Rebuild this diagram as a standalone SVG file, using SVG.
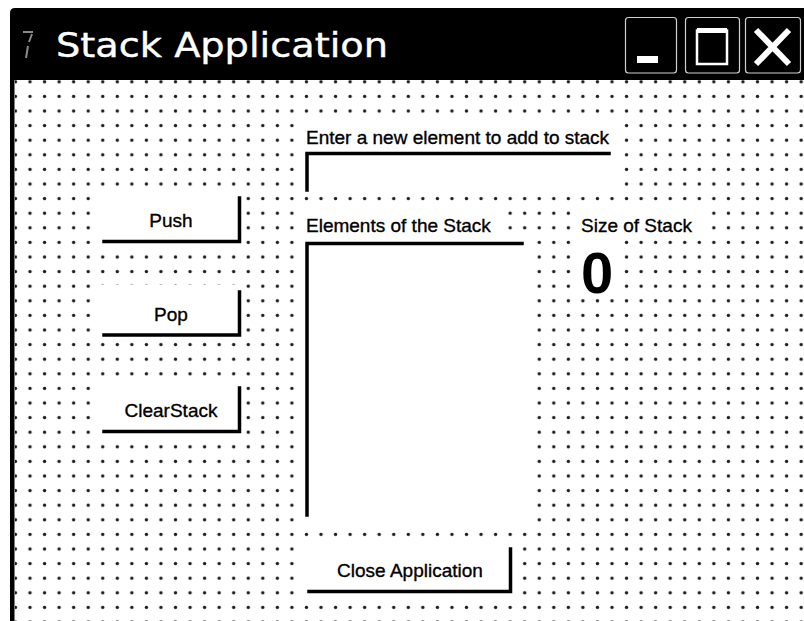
<svg xmlns="http://www.w3.org/2000/svg" width="804" height="621" viewBox="0 0 804 621">
  <defs>
    <pattern id="grid" patternUnits="userSpaceOnUse" x="22.725" y="103.7" width="14.55" height="14.6">
      <circle cx="7.275" cy="7.3" r="1.7" fill="#1a1a1a"/>
    </pattern>
  </defs>
  <style>
    .lbl { font-family: "Liberation Sans", Arial, sans-serif; font-size: 19px; fill: #000; stroke: #000; stroke-width: 0.35px; }
    .btn { font-family: "Liberation Sans", Arial, sans-serif; font-size: 19px; fill: #000; stroke: #000; stroke-width: 0.35px; text-anchor: middle; }
    .face { fill: #fff; }
    .edge { fill: none; stroke: #000; stroke-width: 3.5; stroke-linecap: square; }
    .tbtn { fill: none; stroke: #cfcfcf; stroke-width: 1.2; }
  </style>

  <!-- background -->
  <rect x="0" y="0" width="804" height="621" fill="#fff"/>
  <rect x="15" y="80" width="789" height="541" fill="url(#grid)"/>

  <!-- window frame -->
  <g id="titlebar">
    <path d="M10,80 L10,13 Q10,8 15,8 L804,8 L804,80 Z" fill="#000"/>
    <path d="M23,32 L33,32 M32,34 L29,42 M28,46 L26,58" stroke="#8a8a8a" stroke-width="2" fill="none"/>
    <text x="56" y="57" font-family="DejaVu Sans, Verdana, sans-serif" font-size="33" fill="#fff" stroke="#fff" stroke-width="0.4" textLength="332" lengthAdjust="spacingAndGlyphs">Stack Application</text>
    <g id="btn-minimize">
      <rect class="tbtn" x="625.5" y="17.5" width="51" height="55.5" rx="3"/>
      <rect x="637" y="56" width="21" height="7" fill="#fff"/>
    </g>
    <g id="btn-maximize">
      <rect class="tbtn" x="685.5" y="17.5" width="54" height="55.5" rx="3"/>
      <rect x="697" y="30.5" width="30" height="33.5" fill="none" stroke="#fff" stroke-width="2.5"/>
      <rect x="697" y="28" width="30" height="5" fill="#fff"/>
    </g>
    <g id="btn-close">
      <rect class="tbtn" x="745.5" y="17.5" width="55" height="55.5" rx="3"/>
      <path d="M756,30 L789,64 M789,30 L756,64" stroke="#fff" stroke-width="6" fill="none"/>
    </g>
  </g>
  <rect id="left-border" x="10" y="80" width="4.5" height="541" fill="#000"/>

  <g id="label-enter">
    <rect class="face" x="299" y="119" width="321" height="32"/>
    <text class="lbl" x="306" y="144">Enter a new element to add to stack</text>
  </g>
  <g id="textbox-input">
    <rect class="face" x="299" y="151" width="321" height="41"/>
    <path class="edge" d="M307,190 L307,153.5 L609,153.5"/>
  </g>

  <g id="label-elements">
    <rect class="face" x="299" y="206" width="204" height="34"/>
    <text class="lbl" x="306" y="231.5">Elements of the Stack</text>
  </g>
  <g id="listbox-stack">
    <rect class="face" x="299" y="240" width="233" height="286"/>
    <path class="edge" d="M307,515 L307,243.5 L522,243.5"/>
  </g>

  <g id="label-size">
    <rect class="face" x="575" y="206" width="130" height="34"/>
    <text class="lbl" x="581" y="231.5">Size of Stack</text>
  </g>
  <g id="label-count">
    <rect class="face" x="575" y="240" width="47" height="56"/>
    <text x="581" y="293" font-family="Liberation Sans, Arial, sans-serif" font-size="58" font-weight="bold" fill="#000">0</text>
  </g>

  <g id="button-push">
    <rect class="face" x="95" y="191" width="150" height="56"/>
    <path class="edge" d="M104,241.5 L239.5,241.5 L239.5,198"/>
    <text class="btn" x="171" y="226.5">Push</text>
  </g>
  <g id="button-pop">
    <rect class="face" x="95" y="285" width="150" height="56"/>
    <path class="edge" d="M104,335 L239.5,335 L239.5,292"/>
    <text class="btn" x="171" y="320.5">Pop</text>
  </g>
  <g id="button-clearstack">
    <rect class="face" x="95" y="381" width="150" height="56"/>
    <path class="edge" d="M104,431.5 L239.5,431.5 L239.5,388"/>
    <text class="btn" x="171" y="416.5">ClearStack</text>
  </g>
  <g id="button-close">
    <rect class="face" x="299" y="540" width="219" height="58"/>
    <path class="edge" d="M309,591.5 L510.5,591.5 L510.5,549"/>
    <text class="btn" x="410" y="576.5">Close Application</text>
  </g>
</svg>
